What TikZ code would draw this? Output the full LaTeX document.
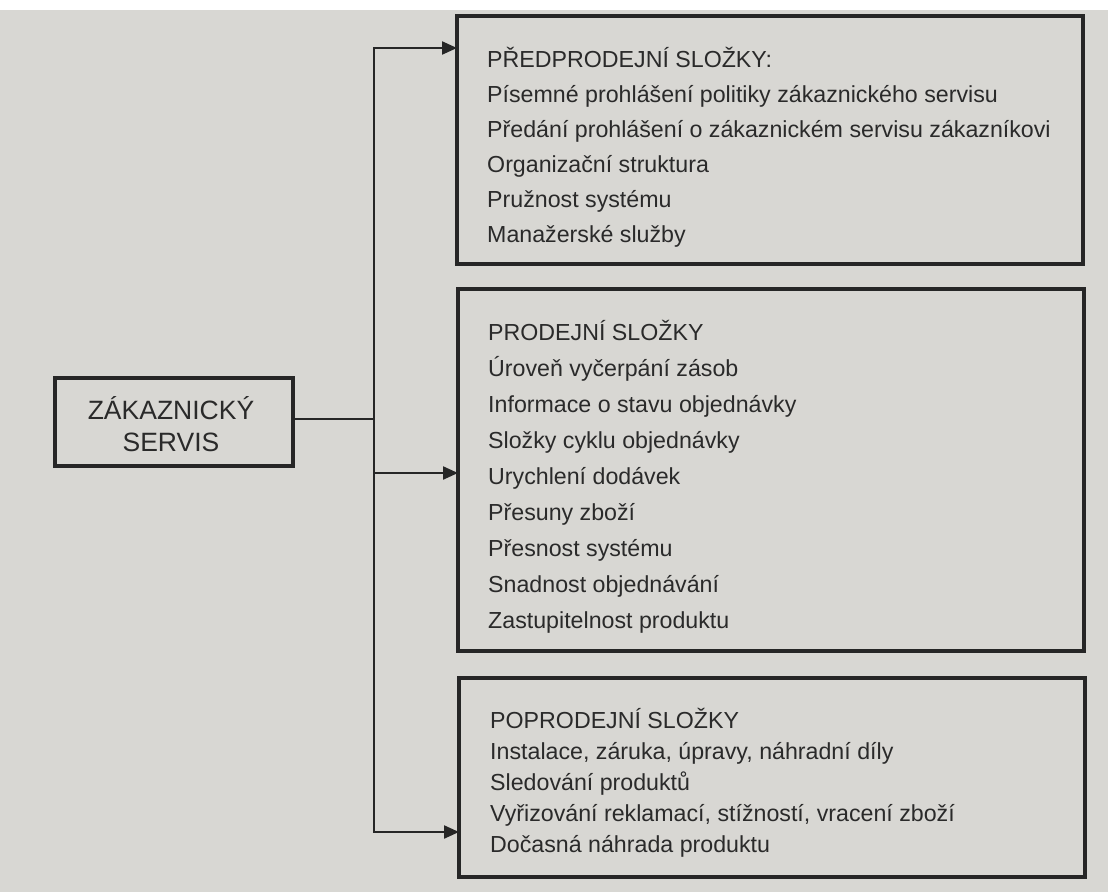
\documentclass[tikz,border=0pt]{standalone}
\usepackage{fontspec}
\setmainfont{Liberation Sans}
\usetikzlibrary{arrows.meta}
\definecolor{paper}{HTML}{D8D7D3}
\definecolor{ink}{HTML}{262626}
\definecolor{txtc}{HTML}{2A2A2A}
\begin{document}
\begin{tikzpicture}[x=1pt,y=-1pt,
  box/.style={draw=ink, line width=4pt, rectangle, inner sep=0pt, outer sep=0pt, anchor=north west},
  conn/.style={draw=ink, line width=2.2pt},
  arr/.style={conn, -{Triangle[length=15pt,width=13pt]}},
  item/.style={inner sep=0pt, anchor=base west, text=txtc, font=\fontsize{23.2}{28}\selectfont},
  head/.style={inner sep=0pt, anchor=base, text=txtc, font=\fontsize{26.5}{31}\selectfont}]
\fill[white] (0,0) rectangle (1108,892);
\fill[paper] (0,10) rectangle (1108,892);
\useasboundingbox (0,0) rectangle (1108,892);

% boxes
\node[box, minimum width=238pt, minimum height=88pt] (L) at (55,378) {};
\node[box, minimum width=626pt, minimum height=248pt] (b1) at (457,16) {};
\node[box, minimum width=626pt, minimum height=362pt] (b2) at (458,289) {};
\node[box, minimum width=626pt, minimum height=199pt] (b3) at (459,678) {};

% left box text
\node[head] (L1) at (171,419) {ZÁKAZNICKÝ};
\node[head] (L2) at (171,451) {SERVIS};

% box 1 text
\foreach \t [count=\i from 0] in {PŘEDPRODEJNÍ SLOŽKY:,
  Písemné prohlášení politiky zákaznického servisu,
  Předání prohlášení o zákaznickém servisu zákazníkovi,
  Organizační struktura,
  Pružnost systému,
  Manažerské služby}
  \node[item] (p\i) at (487,{67+35*\i}) {\t};

% box 2 text
\foreach \t [count=\i from 0] in {PRODEJNÍ SLOŽKY,
  Úroveň vyčerpání zásob,
  Informace o stavu objednávky,
  Složky cyklu objednávky,
  Urychlení dodávek,
  Přesuny zboží,
  Přesnost systému,
  Snadnost objednávání,
  Zastupitelnost produktu}
  \node[item] (s\i) at (488,{340+36*\i}) {\t};

% box 3 text
\node[item] (q0) at (490,728) {POPRODEJNÍ SLOŽKY};
\node[item] (q1) at (490,759) {Instalace, záruka, úpravy, náhradní díly};
\node[item] (q2) at (490,790) {Sledování produktů};
\node[item] (q3) at (490,821) {Vyřizování reklamací, stížností, vracení zboží};
\node[item] (q4) at (490,852) {Dočasná náhrada produktu};

% connectors
\coordinate (j0) at (374,419);
\coordinate (jt) at (374,48);
\coordinate (jm) at (374,473);
\coordinate (jb) at (374,832);
\draw[conn] (L.east |- j0) -- (j0);
\draw[conn, line cap=rect] (jt) -- (jb);
\draw[arr] (jt) -- (jt -| b1.west);
\draw[arr] (jm) -- (jm -| b2.west);
\draw[arr] (jb) -- (jb -| b3.west);
\end{tikzpicture}
\end{document}
